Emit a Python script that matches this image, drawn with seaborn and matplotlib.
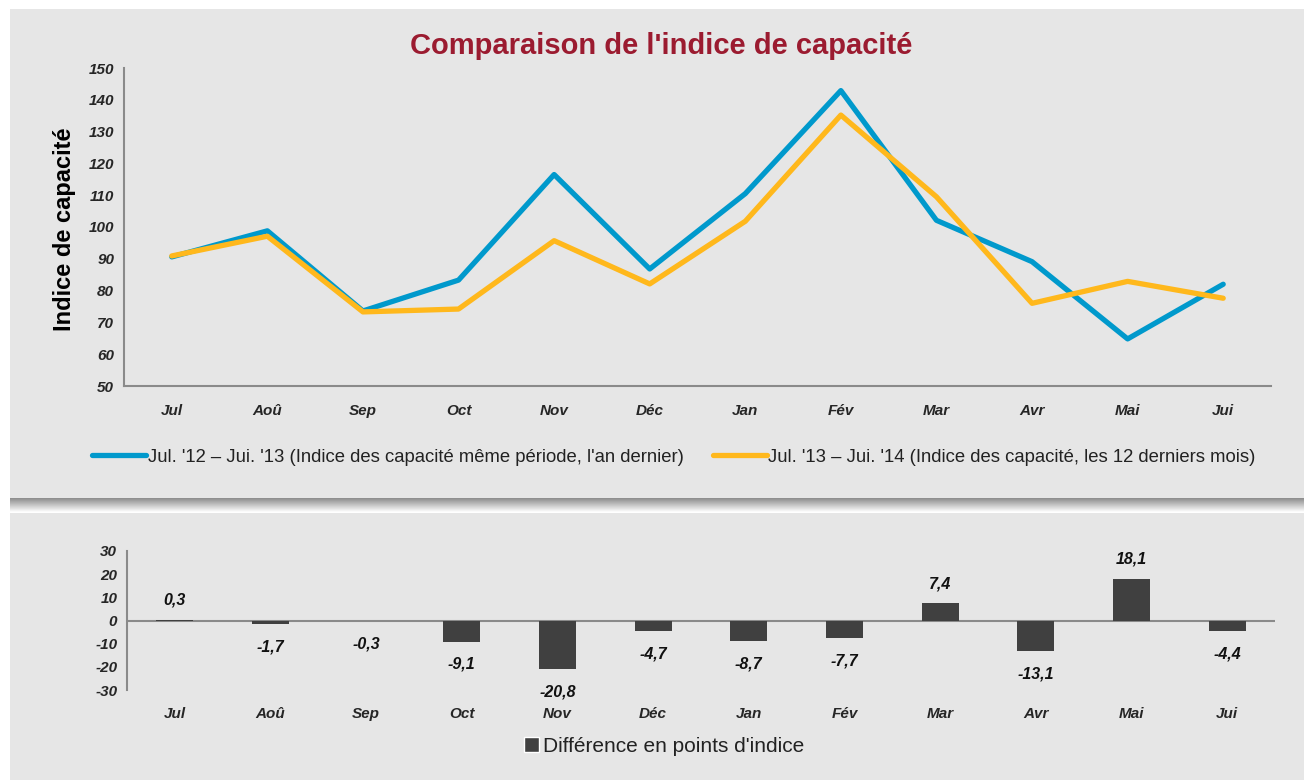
import numpy as np
import pandas as pd
import matplotlib.pyplot as plt
from matplotlib.patches import Rectangle, Patch
from matplotlib.colors import LinearSegmentedColormap
import seaborn as sns

# données
mois = ['Jul', 'Aoû', 'Sep', 'Oct', 'Nov', 'Déc', 'Jan', 'Fév', 'Mar', 'Avr', 'Mai', 'Jui']
indice_an_dernier = [90.6, 98.8, 73.6, 83.3, 116.5, 86.8, 110.5, 142.9, 102.1, 89.1, 64.8, 82.0]
indice_12_mois = [90.9, 97.1, 73.3, 74.2, 95.7, 82.1, 101.8, 135.2, 109.5, 76.0, 82.9, 77.6]
difference = [0.3, -1.7, -0.3, -9.1, -20.8, -4.7, -8.7, -7.7, 7.4, -13.1, 18.1, -4.4]
serie_1 = "Jul. '12 – Jui. '13 (Indice des capacité même période, l'an dernier)"
serie_2 = "Jul. '13 – Jui. '14 (Indice des capacité, les 12 derniers mois)"
label_diff = "Différence en points d'indice"

sns.set_style("white")
plt.rcParams['font.family'] = ['Liberation Sans', 'DejaVu Sans']
plt.rcParams['axes.unicode_minus'] = False

W, H = 1304, 780
fig = plt.figure(figsize=(W / 100, H / 100), dpi=100, facecolor='white')
bg = '#e6e6e6'
axis_col = '#8a8a8a'

# panneaux gris
fig.patches.append(Rectangle((10 / W, 1 - 498 / H), 1, 489 / H, transform=fig.transFigure,
                             facecolor=bg, edgecolor='none', zorder=-5))
fig.patches.append(Rectangle((10 / W, 0), 1, (780 - 513) / H, transform=fig.transFigure,
                             facecolor=bg, edgecolor='none', zorder=-5))
# ombre sous le panneau du haut
ax_sh = fig.add_axes([10 / W, 1 - 512 / H, (W - 10) / W, 14 / H])
grad = np.linspace(0, 1, 60).reshape(-1, 1)
cmap_sh = LinearSegmentedColormap.from_list('sh', ['#8c8c8c', '#ffffff'])
ax_sh.imshow(grad, aspect='auto', cmap=cmap_sh, extent=[0, 1, 0, 1])
ax_sh.axis('off')

# graphique du haut
ax1 = fig.add_axes([124 / W, 1 - 386 / H, (1271 - 124) / W, (386 - 68) / H])
ax1.set_facecolor('none')
df = pd.DataFrame({
    'mois': mois * 2,
    'valeur': indice_an_dernier + indice_12_mois,
    'serie': [serie_1] * len(mois) + [serie_2] * len(mois),
})
sns.lineplot(data=df, x='mois', y='valeur', hue='serie', sort=False,
             palette={serie_1: '#0099cc', serie_2: '#ffb81c'}, linewidth=3.8,
             ax=ax1, legend=True)
ax1.set_xlim(-0.5, len(mois) - 0.5)
ax1.set_ylim(50, 150)
ax1.set_yticks(range(50, 151, 10))
ax1.set_xticks(range(len(mois)))
ax1.set_xticks(np.arange(-0.5, len(mois), 1), minor=True)
ax1.set_xticklabels(mois)
ax1.tick_params(axis='x', which='major', length=0, pad=13)
ax1.tick_params(axis='x', which='minor', length=5, width=1.2, color=axis_col, direction='out')
ax1.tick_params(axis='y', length=4, width=1.2, color=axis_col, direction='out', pad=3)
for lab in ax1.get_xticklabels() + ax1.get_yticklabels():
    lab.set_fontsize(11)
    lab.set_fontweight('bold')
    lab.set_fontstyle('italic')
for s in ['top', 'right']:
    ax1.spines[s].set_visible(False)
for s in ['left', 'bottom']:
    ax1.spines[s].set_color(axis_col)
    ax1.spines[s].set_linewidth(1.5)
ax1.set_xlabel('')
ax1.set_ylabel('')
handles, labels = ax1.get_legend_handles_labels()
ax1.legend(handles, labels, loc='center', bbox_to_anchor=(674 / W, 1 - 457 / H),
           bbox_transform=fig.transFigure, ncol=2, frameon=False, fontsize=13.3,
           handlelength=2.9, handletextpad=0.1, columnspacing=1.6, labelcolor='#222222')

fig.text(661 / W, 1 - 46 / H, "Comparaison de l'indice de capacité", ha='center', va='center',
         fontsize=21, fontweight='bold', color='#9b1b30')
fig.text(64 / W, 1 - 229 / H, 'Indice de capacité', ha='center', va='center', rotation=90,
         fontsize=17, fontweight='bold', color='black')

# graphique du bas
ax2 = fig.add_axes([127 / W, 1 - 690 / H, (1275 - 127) / W, (690 - 551) / H])
ax2.set_facecolor('none')
sns.barplot(x=mois, y=difference, color='#404040', width=0.39, saturation=1,
            linewidth=0, edgecolor='none', ax=ax2)
ax2.set_xlim(-0.5, len(mois) - 0.5)
ax2.set_ylim(-30, 30)
ax2.set_yticks(range(-30, 31, 10))
ax2.axhline(0, color=axis_col, linewidth=1.5, zorder=0.5)
ax2.tick_params(axis='x', length=0, pad=12)
ax2.tick_params(axis='y', length=4, width=1.2, color=axis_col, direction='out', pad=3)
for lab in ax2.get_xticklabels() + ax2.get_yticklabels():
    lab.set_fontsize(11)
    lab.set_fontweight('bold')
    lab.set_fontstyle('italic')
for s in ['top', 'right', 'bottom']:
    ax2.spines[s].set_visible(False)
ax2.spines['left'].set_color(axis_col)
ax2.spines['left'].set_linewidth(1.5)
for i, v in enumerate(difference):
    ax2.annotate(f"{v:.1f}".replace('.', ','), (i, v), xytext=(0, 14 if v >= 0 else -16.5),
                 textcoords='offset points', ha='center', va='center',
                 fontsize=11.5, fontweight='bold', fontstyle='italic', color='#111111')
ax2.legend([Patch(facecolor='#404040')], [label_diff], loc='center',
           bbox_to_anchor=(664 / W, 1 - 746 / H), bbox_transform=fig.transFigure,
           frameon=False, fontsize=15, handlelength=0.7, handleheight=0.7,
           handletextpad=0.2, labelcolor='#222222')

fig.savefig('out.png', dpi=100, facecolor='white')
